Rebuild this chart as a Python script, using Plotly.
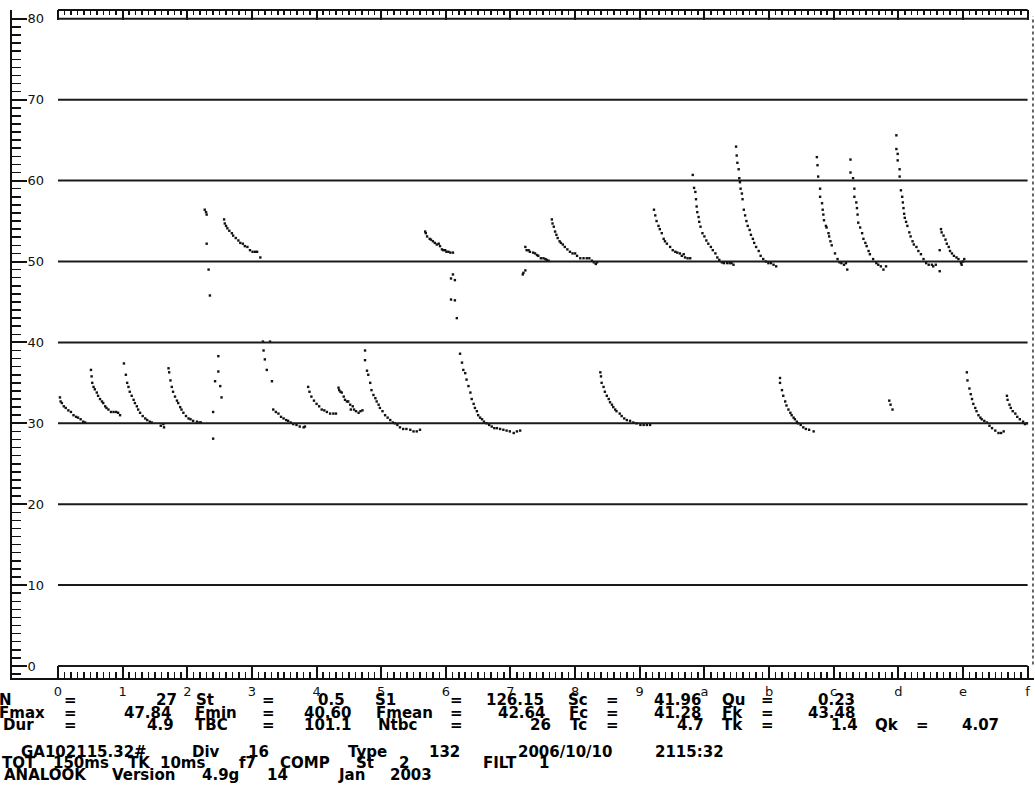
import plotly.graph_objects as go

# ---------------- data (time in divisions, frequency in kHz) ----------------
A_t = [0.03, 0.04, 0.06, 0.09, 0.12, 0.16, 0.20, 0.24, 0.28, 0.31, 0.35, 0.39, 0.42]
A_f = [33.2, 32.7, 32.5, 32.1, 31.9, 31.6, 31.4, 31.0, 30.8, 30.7, 30.5, 30.2, 30.1]

B_t = [0.51, 0.52, 0.53, 0.55, 0.57, 0.60, 0.62, 0.65, 0.68, 0.70, 0.73, 0.75, 0.78, 0.82, 0.86, 0.90, 0.93, 0.96]
B_f = [36.6, 35.8, 35.0, 34.5, 34.2, 33.8, 33.4, 33.0, 32.7, 32.5, 32.1, 31.9, 31.7, 31.4, 31.4, 31.4, 31.3, 31.0]

C_t = [1.02, 1.05, 1.07, 1.09, 1.11, 1.14, 1.17, 1.19, 1.22, 1.24, 1.27, 1.31, 1.35, 1.38, 1.42, 1.45]
C_f = [37.4, 36.0, 35.0, 34.5, 33.9, 33.4, 32.9, 32.5, 32.1, 31.7, 31.3, 30.9, 30.6, 30.4, 30.2, 30.1]

C2_t = [1.59, 1.63, 1.64]
C2_f = [29.7, 29.9, 29.5]

D_t = [1.71, 1.72, 1.74, 1.76, 1.78, 1.81, 1.84, 1.86, 1.89, 1.91, 1.94, 1.98, 2.02, 2.05, 2.09, 2.15, 2.19, 2.21]
D_f = [36.8, 36.3, 35.3, 34.5, 33.9, 33.3, 32.8, 32.5, 32.0, 31.7, 31.3, 30.9, 30.6, 30.5, 30.3, 30.2, 30.1, 30.1]

E_t = [2.27, 2.29, 2.30, 2.30, 2.33, 2.35, 2.40, 2.40, 2.43, 2.48, 2.48, 2.51, 2.53]
E_f = [56.4, 56.1, 55.8, 52.2, 49.0, 45.8, 31.4, 28.1, 35.2, 38.3, 36.4, 34.6, 33.2]

U2_t = [2.57, 2.58, 2.60, 2.62, 2.65, 2.69, 2.71, 2.75, 2.79, 2.82, 2.86, 2.89, 2.93, 2.97, 3.01, 3.05, 3.08, 3.13]
U2_f = [55.2, 54.7, 54.4, 54.1, 53.8, 53.5, 53.2, 52.9, 52.6, 52.3, 52.2, 51.9, 51.8, 51.4, 51.2, 51.2, 51.2, 50.5]

F_t = [3.17, 3.28, 3.18, 3.20, 3.23, 3.31]
F_f = [40.1, 40.1, 39.0, 37.9, 36.6, 35.2]

G_t = [3.33, 3.37, 3.41, 3.45, 3.49, 3.53, 3.56, 3.60, 3.64, 3.69, 3.74, 3.80, 3.82]
G_f = [31.7, 31.4, 31.2, 30.8, 30.6, 30.4, 30.3, 30.1, 29.9, 29.8, 29.6, 29.5, 29.6]

H_t = [3.87, 3.89, 3.92, 3.96, 4.00, 4.04, 4.08, 4.12, 4.16, 4.21, 4.26, 4.30]
H_f = [34.5, 33.9, 33.3, 32.8, 32.4, 32.1, 31.7, 31.6, 31.4, 31.2, 31.2, 31.2]

I_t = [4.34, 4.35, 4.37, 4.39, 4.42, 4.44, 4.47, 4.49, 4.52, 4.53, 4.56, 4.58, 4.61, 4.65, 4.68, 4.71]
I_f = [34.4, 34.1, 33.9, 33.8, 33.3, 32.9, 32.7, 32.7, 32.3, 31.7, 32.1, 31.7, 31.5, 31.3, 31.5, 31.6]

J_t = [4.75, 4.75, 4.78, 4.80, 4.83, 4.85, 4.88, 4.91, 4.93, 4.96, 4.98, 5.02, 5.06, 5.10, 5.14,
       5.18, 5.21, 5.25, 5.29, 5.34, 5.39, 5.45, 5.50, 5.55, 5.60]
J_f = [39.0, 37.8, 36.5, 36.0, 35.0, 34.1, 33.5, 33.1, 32.7, 32.3, 31.9, 31.5, 31.0, 30.7, 30.4,
       30.1, 30.0, 29.8, 29.5, 29.3, 29.3, 29.2, 29.0, 29.0, 29.2]

U3_t = [5.68, 5.69, 5.71, 5.75, 5.77, 5.80, 5.83, 5.86, 5.89, 5.91, 5.94, 5.96, 5.99, 6.01, 6.04, 6.07, 6.11]
U3_f = [53.7, 53.5, 53.1, 52.8, 52.7, 52.5, 52.3, 52.1, 52.2, 51.9, 51.5, 51.4, 51.4, 51.2, 51.2, 51.1, 51.1]

V_t = [6.08, 6.11, 6.14, 6.08, 6.14, 6.17]
V_f = [47.9, 48.4, 47.7, 45.3, 45.2, 43.0]

K_t = [6.22, 6.25, 6.27, 6.30, 6.32, 6.35, 6.38, 6.40, 6.43, 6.45, 6.48, 6.50, 6.53, 6.56, 6.59,
       6.63, 6.67, 6.71, 6.75, 6.79, 6.84, 6.89, 6.94, 6.99, 7.05, 7.10, 7.15]
K_f = [38.6, 37.5, 36.6, 36.2, 35.4, 34.6, 33.8, 33.0, 32.4, 31.9, 31.5, 31.0, 30.7, 30.5, 30.2,
       30.0, 29.8, 29.6, 29.4, 29.4, 29.3, 29.2, 29.1, 29.0, 28.8, 29.0, 29.1]

U4_t = [7.19, 7.20, 7.23, 7.23, 7.25, 7.28, 7.30, 7.35, 7.38, 7.41, 7.43, 7.47, 7.51, 7.54, 7.56, 7.59]
U4_f = [48.4, 48.6, 48.9, 51.8, 51.4, 51.4, 51.2, 51.1, 51.0, 50.8, 50.7, 50.4, 50.4, 50.3, 50.2, 50.1]

U5_t = [7.64, 7.65, 7.67, 7.69, 7.71, 7.73, 7.76, 7.78, 7.81, 7.84, 7.88, 7.92, 7.96, 8.00, 8.03,
        8.08, 8.13, 8.18, 8.22, 8.26, 8.29, 8.32, 8.34]
U5_f = [55.2, 54.7, 54.3, 53.7, 53.3, 52.9, 52.5, 52.3, 52.1, 51.8, 51.5, 51.2, 51.0, 51.0, 50.7,
        50.4, 50.4, 50.4, 50.4, 50.1, 49.9, 49.7, 49.9]

L_t = [8.39, 8.40, 8.41, 8.44, 8.46, 8.49, 8.52, 8.54, 8.57, 8.59, 8.62, 8.64, 8.69, 8.72, 8.76,
       8.80, 8.85, 8.90, 8.95, 9.01, 9.06, 9.11, 9.16]
L_f = [36.3, 35.8, 35.0, 34.5, 33.9, 33.4, 33.0, 32.6, 32.3, 32.0, 31.7, 31.5, 31.2, 30.9, 30.6,
       30.4, 30.3, 30.1, 30.0, 29.8, 29.8, 29.8, 29.8]

U6_t = [9.22, 9.24, 9.26, 9.29, 9.31, 9.34, 9.37, 9.39, 9.42, 9.47, 9.51, 9.55, 9.58, 9.62, 9.65, 9.68, 9.70, 9.74, 9.78]
U6_f = [56.4, 55.7, 55.0, 54.4, 54.0, 53.5, 52.8, 52.5, 52.2, 51.8, 51.4, 51.2, 51.1, 51.0, 50.7, 50.9, 50.5, 50.4, 50.4]

U7_t = [9.82, 9.84, 9.86, 9.87, 9.88, 9.89, 9.91, 9.92, 9.94, 9.97, 10.00, 10.03, 10.06, 10.10, 10.13,
        10.17, 10.20, 10.23, 10.27, 10.30, 10.35, 10.39, 10.42, 10.45]
U7_f = [60.7, 59.1, 58.6, 57.7, 56.8, 56.1, 55.5, 54.9, 54.3, 53.5, 53.1, 52.6, 52.2, 51.8, 51.4,
        51.0, 50.5, 50.2, 49.9, 49.8, 49.8, 49.8, 49.8, 49.6]

U8_t = [10.49, 10.50, 10.51, 10.53, 10.54, 10.55, 10.56, 10.58, 10.59, 10.61, 10.63, 10.65, 10.67,
        10.70, 10.72, 10.75, 10.77, 10.80, 10.84, 10.87, 10.91, 10.95, 10.99, 11.03, 11.07, 11.11]
U8_f = [64.2, 63.1, 62.2, 61.4, 60.3, 59.8, 59.0, 58.4, 57.7, 56.4, 55.7, 55.0, 54.4,
        53.9, 53.3, 52.8, 52.3, 51.8, 51.3, 50.7, 50.3, 50.0, 49.8, 49.8, 49.6, 49.4]

M_t = [11.17, 11.17, 11.20, 11.22, 11.25, 11.27, 11.30, 11.33, 11.35, 11.38, 11.40, 11.43, 11.45, 11.49, 11.53, 11.57, 11.62, 11.69]
M_f = [35.6, 35.0, 34.1, 33.4, 32.7, 32.2, 31.7, 31.3, 31.0, 30.7, 30.5, 30.2, 30.0, 29.8, 29.5, 29.3, 29.2, 29.0]

U9_t = [11.74, 11.75, 11.76, 11.79, 11.79, 11.82, 11.83, 11.84, 11.85, 11.88, 11.89, 11.92, 11.93,
        11.95, 11.97, 12.02, 12.06, 12.09, 12.12, 12.16, 12.19, 12.21]
U9_f = [62.9, 61.9, 60.5, 59.0, 58.0, 57.2, 56.4, 55.8, 55.1, 54.4, 54.2, 53.5, 53.1,
        52.5, 52.0, 51.0, 50.3, 49.9, 49.8, 49.6, 49.8, 49.0]

U10_t = [12.26, 12.26, 12.30, 12.32, 12.32, 12.35, 12.36, 12.37, 12.38, 12.41, 12.44, 12.46, 12.49,
         12.51, 12.54, 12.56, 12.61, 12.66, 12.69, 12.73, 12.77, 12.81]
U10_f = [62.6, 61.0, 60.3, 59.0, 58.0, 57.3, 56.6, 55.8, 54.8, 54.2, 53.5, 52.8, 52.3,
         51.9, 51.3, 50.9, 50.3, 49.8, 49.6, 49.4, 49.0, 49.4]

N_t = [12.86, 12.88, 12.91]
N_f = [32.8, 32.3, 31.7]

U11_t = [12.97, 12.97, 12.99, 12.99, 13.02, 13.02, 13.04, 13.06, 13.07, 13.08, 13.09, 13.10, 13.12, 13.14,
         13.17, 13.19, 13.22, 13.24, 13.28, 13.31, 13.35, 13.39, 13.43, 13.47, 13.52, 13.54, 13.58]
U11_f = [65.6, 63.9, 63.3, 62.5, 61.4, 60.5, 58.8, 58.0, 57.3, 56.6, 55.9, 55.4, 54.9, 54.4,
         53.6, 53.1, 52.5, 52.1, 51.8, 51.3, 50.9, 50.3, 49.8, 49.6, 49.6, 49.4, 49.6]

W_t = [13.64, 13.64]
W_f = [51.4, 48.8]

U12_t = [13.66, 13.67, 13.70, 13.73, 13.75, 13.78, 13.80, 13.83, 13.86, 13.90, 13.93, 13.97, 13.98, 14.00, 14.02]
U12_f = [54.0, 53.6, 53.2, 52.7, 52.2, 51.8, 51.3, 51.0, 50.7, 50.5, 50.3, 49.8, 49.6, 50.0, 50.3]

O_t = [14.06, 14.07, 14.10, 14.12, 14.14, 14.16, 14.19, 14.21, 14.24, 14.27, 14.29, 14.33, 14.37, 14.41, 14.45, 14.50, 14.55, 14.59, 14.63]
O_f = [36.3, 35.3, 34.3, 33.6, 33.0, 32.4, 31.9, 31.5, 31.0, 30.7, 30.5, 30.3, 30.1, 29.7, 29.4, 29.1, 28.8, 28.8, 29.0]

P_t = [14.68, 14.69, 14.72, 14.74, 14.77, 14.81, 14.84, 14.88, 14.93, 14.96, 14.99]
P_f = [33.4, 32.9, 32.3, 31.9, 31.5, 31.2, 30.8, 30.5, 30.2, 29.9, 30.0]

x_ticks = list(range(16))
x_ticktext = ["0", "1", "2", "3", "4", "5", "6", "7", "8", "9", "a", "b", "c", "d", "e", "f"]
x_minor = [i / 10 for i in range(151) if i % 10 != 0]
y_ticks = [0, 10, 20, 30, 40, 50, 60, 70, 80]
y_minor = [v for v in range(-1, 82) if v % 10 != 0]

# info block (text, centre x in px) per row
row1 = [("N", 5), ("=", 70), ("27", 166), ("St", 205), ("=", 268), ("0.5", 331), ("S1", 385), ("=", 456),
        ("126.15", 515), ("Sc", 578), ("=", 612), ("41.96", 677), ("Qu", 733), ("=", 767), ("0.23", 836)]
row2 = [("Fmax", 22), ("=", 70), ("47.84", 147), ("Fmin", 216), ("=", 268), ("40.60", 327), ("Fmean", 404),
        ("=", 456), ("42.64", 521), ("Fc", 578), ("=", 612), ("41.28", 677), ("Fk", 732), ("=", 767), ("43.48", 831)]
row3 = [("Dur", 18), ("=", 70), ("4.9", 160), ("TBC", 211), ("=", 268), ("101.1", 327), ("Ntbc", 397),
        ("=", 456), ("26", 540), ("Tc", 578), ("=", 612), ("4.7", 690), ("Tk", 732), ("=", 767), ("1.4", 844),
        ("Qk", 887), ("=", 922), ("4.07", 980)]
row4 = [("GA102115.32#", 84), ("Div", 206), ("16", 258), ("Type", 367), ("132", 444),
        ("2006/10/10", 565), ("2115:32", 689)]
row5 = [("TOT", 19), ("150ms", 81), ("TK", 139), ("10ms", 183), ("f7", 247), ("COMP", 305),
        ("St", 365), ("2", 404), ("FILT", 500), ("1", 544)]
row6 = [("ANALOOK", 45), ("Version", 143), ("4.9g", 220), ("14", 277), ("Jan", 351), ("2003", 411)]

# ---------------- geometry ----------------
W, H = 1035, 785
PX0, PX_PER = 58.0, 64.64      # pixel of t=0 and px per division
PY0, PY_PER = 666.0, 8.09      # pixel of 0 kHz and px per kHz
L_PX, R_PX, T_PX, B_PX = 12, 1034, 10, 678

x_range = [(L_PX - PX0) / PX_PER, (R_PX - PX0) / PX_PER]
y_range = [(PY0 - B_PX) / PY_PER, (PY0 - T_PX) / PY_PER]

calls = [(A_t, A_f), (B_t, B_f), (C_t, C_f), (C2_t, C2_f), (D_t, D_f), (E_t, E_f), (U2_t, U2_f),
         (F_t, F_f), (G_t, G_f), (H_t, H_f), (I_t, I_f), (J_t, J_f), (U3_t, U3_f), (V_t, V_f),
         (K_t, K_f), (U4_t, U4_f), (U5_t, U5_f), (L_t, L_f), (U6_t, U6_f), (U7_t, U7_f),
         (U8_t, U8_f), (M_t, M_f), (U9_t, U9_f), (U10_t, U10_f), (N_t, N_f), (U11_t, U11_f),
         (W_t, W_f), (U12_t, U12_f), (O_t, O_f), (P_t, P_f)]

fig = go.Figure()
for t, f in calls:
    fig.add_trace(go.Scatter(x=t, y=f, mode="markers",
                             marker=dict(symbol="square", size=2.4, color="#111111", line=dict(width=0)),
                             showlegend=False, hoverinfo="skip"))
fig.add_trace(go.Scatter(x=[], y=[], xaxis="x2", yaxis="y", showlegend=False))

ink = "#111111"
tickfont = dict(family="DejaVu Sans", size=13, color=ink)

fig.update_layout(
    width=W, height=H, autosize=False,
    margin=dict(l=0, r=0, t=0, b=0),
    paper_bgcolor="white", plot_bgcolor="white",
    xaxis=dict(domain=[L_PX / W, R_PX / W], range=x_range, showgrid=False, zeroline=False,
               showline=True, linecolor=ink, linewidth=2,
               ticks="inside", ticklen=12, tickwidth=2, tickcolor=ink,
               tickmode="array", tickvals=x_ticks, ticktext=x_ticktext, tickfont=tickfont,
               minor=dict(tickmode="array", tickvals=x_minor, ticks="inside", ticklen=6,
                          tickwidth=1.5, tickcolor=ink, showgrid=False)),
    xaxis2=dict(overlaying="x", side="top", anchor="y", range=x_range, showgrid=False, zeroline=False,
                showline=False, ticks="inside", ticklen=10, tickwidth=2, tickcolor=ink,
                tickmode="array", tickvals=x_ticks, showticklabels=False,
                minor=dict(tickmode="array", tickvals=x_minor, ticks="inside", ticklen=5,
                           tickwidth=1.5, tickcolor=ink, showgrid=False)),
    yaxis=dict(domain=[1 - B_PX / H, 1 - T_PX / H], range=y_range, showgrid=False, zeroline=False,
               showline=True, linecolor=ink, linewidth=2,
               ticks="inside", ticklen=15, tickwidth=2, tickcolor=ink,
               tickmode="array", tickvals=y_ticks, ticktext=[str(v) for v in y_ticks],
               ticklabelposition="inside", tickfont=tickfont,
               minor=dict(tickmode="array", tickvals=y_minor, ticks="inside", ticklen=9,
                          tickwidth=1.5, tickcolor=ink, showgrid=False)),
)

shapes = []
for v in y_ticks:
    shapes.append(dict(type="line", xref="x", yref="y", x0=x_ticks[0], x1=x_ticks[-1], y0=v, y1=v,
                       line=dict(color="#1a1a1a", width=2)))
shapes.append(dict(type="line", xref="x", yref="y domain", x0=x_ticks[0], x1=x_ticks[-1], y0=1, y1=1,
                   line=dict(color=ink, width=2)))
shapes.append(dict(type="line", xref="x domain", yref="y", x0=0.999, x1=0.999, y0=0.2, y1=80.3,
                   line=dict(color="#333333", width=1.5, dash="dot")))
fig.update_layout(shapes=shapes)

annotations = []
infofont = dict(family="DejaVu Sans", size=15, color="#000000")
for row, ypx in [(row1, 700), (row2, 712.5), (row3, 725), (row4, 751.5), (row5, 762.5), (row6, 774.5)]:
    for txt, xc in row:
        annotations.append(dict(xref="paper", yref="paper", x=xc / W, y=1 - ypx / H,
                                text="<b>" + txt + "</b>", showarrow=False, xanchor="center",
                                yanchor="middle", font=infofont, borderpad=0))
fig.update_layout(annotations=annotations)

fig.write_html("out.html",
               config={"displayModeBar": False, "staticPlot": True},
               post_script="document.body.style.margin='0';document.body.style.padding='0';"
                           "document.documentElement.style.overflow='hidden';")
